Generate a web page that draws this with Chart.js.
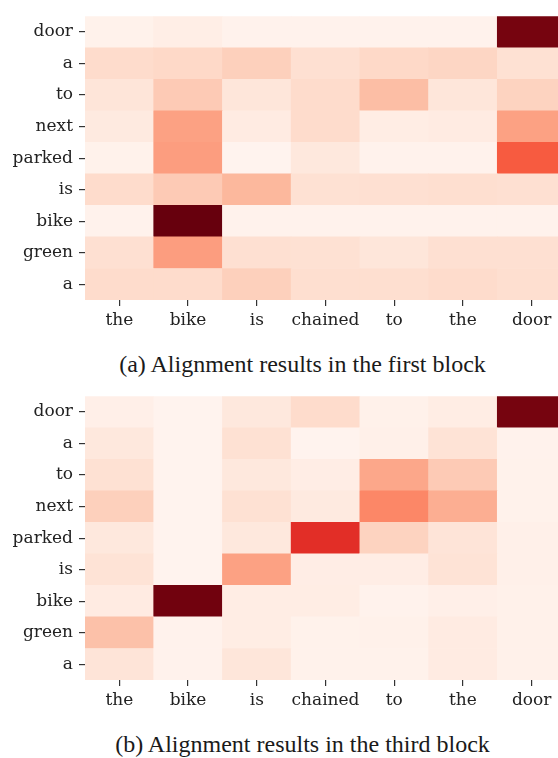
<!DOCTYPE html>
<html>
<head>
<meta charset="utf-8">
<script src="https://cdn.jsdelivr.net/npm/chart.js@4.4.1/dist/chart.umd.min.js"></script>
<style>
  html, body { margin: 0; padding: 0; background: #fff; overflow: hidden; }
  body { width: 558px; height: 758px; position: relative; }
  .box { position: absolute; left: 0; width: 566px; height: 340px; }
  .cap { position: absolute; left: 0; width: 605px; text-align: center; line-height: 1;
         font-family: "Liberation Serif", "Times New Roman", serif; font-size: 24px; color: #1a1a1a; }
</style>
</head>
<body>
<div class="box" style="top:0"><canvas id="blockA"></canvas></div>
<div class="cap" style="top:352px">(a) Alignment results in the first block</div>
<div class="box" style="top:380px"><canvas id="blockB"></canvas></div>
<div class="cap" style="top:732px">(b) Alignment results in the third block</div>
<script>
// mots source (colonnes) et cible (lignes, de haut en bas)
const colWords = ["the", "bike", "is", "chained", "to", "the", "door"];
const rowWords = ["door", "a", "to", "next", "parked", "is", "bike", "green", "a"];

// poids d'alignement, bloc 1 (une ligne par mot de rowWords)
const firstDoor   = [0.02, 0.04, 0.015, 0.015, 0.015, 0.015, 0.97];
const firstA1     = [0.14, 0.15, 0.18, 0.125, 0.15, 0.16, 0.12];
const firstTo     = [0.095, 0.20, 0.09, 0.14, 0.24, 0.09, 0.17];
const firstNext   = [0.065, 0.33, 0.06, 0.14, 0.05, 0.06, 0.33];
const firstParked = [0.02, 0.34, 0.01, 0.08, 0.015, 0.015, 0.54];
const firstIs     = [0.14, 0.20, 0.26, 0.12, 0.125, 0.13, 0.125];
const firstBike   = [0.015, 1.0, 0.015, 0.015, 0.015, 0.015, 0.015];
const firstGreen  = [0.125, 0.34, 0.125, 0.12, 0.09, 0.125, 0.125];
const firstA2     = [0.14, 0.14, 0.18, 0.13, 0.13, 0.14, 0.13];

// bloc 3
const thirdDoor   = [0.035, 0.01, 0.08, 0.14, 0.025, 0.05, 0.97];
const thirdA1     = [0.08, 0.01, 0.12, 0.01, 0.03, 0.11, 0.015];
const thirdTo     = [0.12, 0.01, 0.08, 0.045, 0.31, 0.20, 0.02];
const thirdNext   = [0.18, 0.01, 0.12, 0.065, 0.41, 0.29, 0.02];
const thirdParked = [0.08, 0.01, 0.08, 0.67, 0.17, 0.10, 0.03];
const thirdIs     = [0.11, 0.01, 0.33, 0.045, 0.045, 0.11, 0.03];
const thirdBike   = [0.06, 0.98, 0.05, 0.05, 0.015, 0.035, 0.025];
const thirdGreen  = [0.23, 0.015, 0.05, 0.02, 0.025, 0.06, 0.025];
const thirdA2     = [0.10, 0.015, 0.09, 0.02, 0.02, 0.06, 0.025];

const firstBlock = [firstDoor, firstA1, firstTo, firstNext, firstParked, firstIs, firstBike, firstGreen, firstA2];
const thirdBlock = [thirdDoor, thirdA1, thirdTo, thirdNext, thirdParked, thirdIs, thirdBike, thirdGreen, thirdA2];

// palette "Reds"
const reds = ["#fff5f0", "#fee0d2", "#fcbba1", "#fc9272", "#fb6a4a", "#ef3b2c", "#cb181d", "#a50f15", "#67000d"];

function hexRgb(h) {
  return [1, 3, 5].map(i => parseInt(h.slice(i, i + 2), 16));
}

function couleur(v) {
  const t = Math.max(0, Math.min(1, v)) * (reds.length - 1);
  const i = Math.min(Math.floor(t), reds.length - 2);
  const f = t - i;
  const a = hexRgb(reds[i]);
  const b = hexRgb(reds[i + 1]);
  const c = a.map((x, k) => Math.round(x + (b[k] - x) * f));
  return `rgb(${c[0]},${c[1]},${c[2]})`;
}

const policeAxe = { family: "'DejaVu Serif', serif", size: 17 };

function dessinerBloc(id, bloc) {
  // une pile par colonne, une cellule unitaire par ligne (du bas vers le haut)
  const datasets = bloc.slice().reverse().map((ligne, i) => ({
    label: rowWords[rowWords.length - 1 - i],
    data: colWords.map(() => 1),
    backgroundColor: ligne.map(couleur),
    borderWidth: 0,
    barPercentage: 1,
    categoryPercentage: 1
  }));

  new Chart(document.getElementById(id), {
    type: 'bar',
    data: { labels: colWords, datasets },
    options: {
      responsive: true,
      maintainAspectRatio: false,
      animation: false,
      layout: { padding: { top: 13, right: 0, left: 0, bottom: 0 } },
      plugins: { legend: { display: false }, tooltip: { enabled: false } },
      scales: {
        x: {
          stacked: true,
          offset: true,
          grid: { display: true, offset: false, drawOnChartArea: false, drawTicks: true, tickLength: 6, color: '#333', lineWidth: 1.2 },
          border: { display: false },
          ticks: { font: policeAxe, color: '#222', padding: 4, maxRotation: 0, autoSkip: false },
          afterFit: s => { s.height = 40; }
        },
        y: {
          stacked: true,
          min: 0,
          max: rowWords.length,
          afterBuildTicks: s => { s.ticks = rowWords.map((_, i) => ({ value: i + 0.5 })); },
          grid: { display: true, drawOnChartArea: false, drawTicks: true, tickLength: 6, color: '#333', lineWidth: 1.2 },
          border: { display: false },
          ticks: {
            font: policeAxe, color: '#222', padding: 6, autoSkip: false,
            callback: v => rowWords[rowWords.length - 1 - Math.floor(v)]
          },
          afterFit: s => { s.width = 85; }
        }
      }
    }
  });
}

dessinerBloc("blockA", firstBlock);
dessinerBloc("blockB", thirdBlock);
</script>
</body>
</html>
